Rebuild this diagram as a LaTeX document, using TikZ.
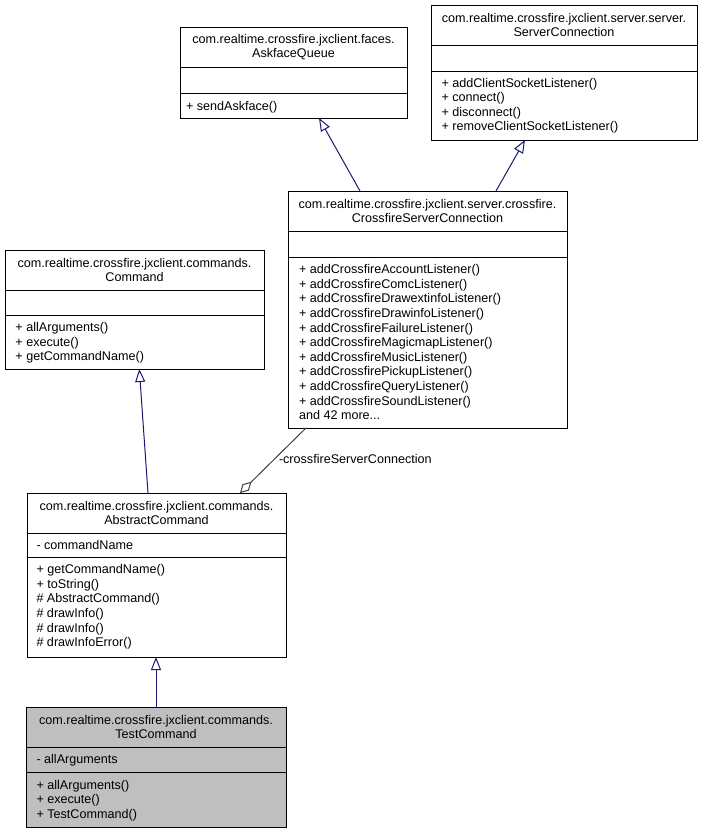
\documentclass[tikz,border=0pt]{standalone}
\usepackage{fontspec}
\setmainfont{Liberation Sans}
\usetikzlibrary{arrows.meta}
\definecolor{edgeblue}{RGB}{25,25,112}
\definecolor{edgegray}{RGB}{64,64,64}
\definecolor{hlfill}{RGB}{191,191,191}
\begin{document}
\begin{tikzpicture}[x=1pt,y=-1pt,
  every node/.style={font=\fontsize{12.6}{14.6}\selectfont, inner sep=0pt, outer sep=0pt},
  classbox/.style={draw=black, line width=1pt, rectangle, anchor=north west},
  divider/.style={draw=black, line width=1pt},
  title/.style={align=center},
  members/.style={align=left, anchor=north west},
  inh/.style={draw=edgeblue, line width=1pt, -{Triangle[open, length=13pt, width=10pt]}},
  agg/.style={draw=edgegray, line width=1pt, -{Diamond[open, length=16pt, width=9pt]}},
  lbl/.style={anchor=west}]
\useasboundingbox (0,0) rectangle (703,833);

% AskfaceQueue
\node[classbox, minimum width=227pt, minimum height=91pt] (A) at (180,27) {};
\draw[divider] (A.west |- 0,67) -- (A.east |- 0,67);
\draw[divider] (A.west |- 0,93) -- (A.east |- 0,93);
\node[title] (At) at (293.5,47) {com.realtime.crossfire.jxclient.faces.\\AskfaceQueue};
\node[members] (Am) at (186,101.5) {+ sendAskface()};

% ServerConnection
\node[classbox, minimum width=266pt, minimum height=135pt] (S) at (431,5) {};
\draw[divider] (S.west |- 0,45) -- (S.east |- 0,45);
\draw[divider] (S.west |- 0,71) -- (S.east |- 0,71);
\node[title] (St) at (564,25) {com.realtime.crossfire.jxclient.server.server.\\ServerConnection};
\node[members] (Sm) at (441.5,78) {+ addClientSocketListener()\\+ connect()\\+ disconnect()\\+ removeClientSocketListener()};

% CrossfireServerConnection
\node[classbox, minimum width=279pt, minimum height=237pt] (C) at (288,191) {};
\draw[divider] (C.west |- 0,231) -- (C.east |- 0,231);
\draw[divider] (C.west |- 0,257) -- (C.east |- 0,257);
\node[title] (Ct) at (427.5,211) {com.realtime.crossfire.jxclient.server.crossfire.\\CrossfireServerConnection};
\node[members] (Cm) at (299,264.5) {+ addCrossfireAccountListener()\\+ addCrossfireComcListener()\\+ addCrossfireDrawextinfoListener()\\+ addCrossfireDrawinfoListener()\\+ addCrossfireFailureListener()\\+ addCrossfireMagicmapListener()\\+ addCrossfireMusicListener()\\+ addCrossfirePickupListener()\\+ addCrossfireQueryListener()\\+ addCrossfireSoundListener()\\and 42 more...};

% Command
\node[classbox, minimum width=259pt, minimum height=119pt] (Cmd) at (5,250) {};
\draw[divider] (Cmd.west |- 0,290) -- (Cmd.east |- 0,290);
\draw[divider] (Cmd.west |- 0,315) -- (Cmd.east |- 0,315);
\node[title] (Cmdt) at (134.5,270) {com.realtime.crossfire.jxclient.commands.\\Command};
\node[members] (Cmdm) at (15.5,322.5) {+ allArguments()\\+ execute()\\+ getCommandName()};

% AbstractCommand
\node[classbox, minimum width=259pt, minimum height=164pt] (AC) at (27,493) {};
\draw[divider] (AC.west |- 0,533) -- (AC.east |- 0,533);
\draw[divider] (AC.west |- 0,557) -- (AC.east |- 0,557);
\node[title] (ACt) at (156.5,513) {com.realtime.crossfire.jxclient.commands.\\AbstractCommand};
\node[members] (ACa) at (36.5,540.5) {- commandName};
\node[members] (ACm) at (36.5,564.5) {+ getCommandName()\\+ toString()\\\# AbstractCommand()\\\# drawInfo()\\\# drawInfo()\\\# drawInfoError()};

% TestCommand
\node[classbox, fill=hlfill, minimum width=260pt, minimum height=120pt] (T) at (26,707) {};
\draw[divider] (T.west |- 0,747) -- (T.east |- 0,747);
\draw[divider] (T.west |- 0,772) -- (T.east |- 0,772);
\node[title] (Tt) at (156,727) {com.realtime.crossfire.jxclient.commands.\\TestCommand};
\node[members] (Ta) at (36.5,754.5) {- allArguments};
\node[members] (Tm) at (36.5,780) {+ allArguments()\\+ execute()\\+ TestCommand()};

% connectors
\draw[inh] (C.north -| 360,0) -- (A.south -| 319,0);
\draw[inh] (C.north -| 496,0) -- (S.south -| 525,0);
\draw[inh] (AC.north -| 148,0) -- (Cmd.south -| 139.3,0);
\draw[inh] (T.north -| 156,0) -- (AC.south -| 156,0);
\draw[agg] (C.south -| 306,0) -- (AC.north -| 240,0);
\node[lbl] (lab) at (279,459) {-crossfireServerConnection};
\end{tikzpicture}
\end{document}
